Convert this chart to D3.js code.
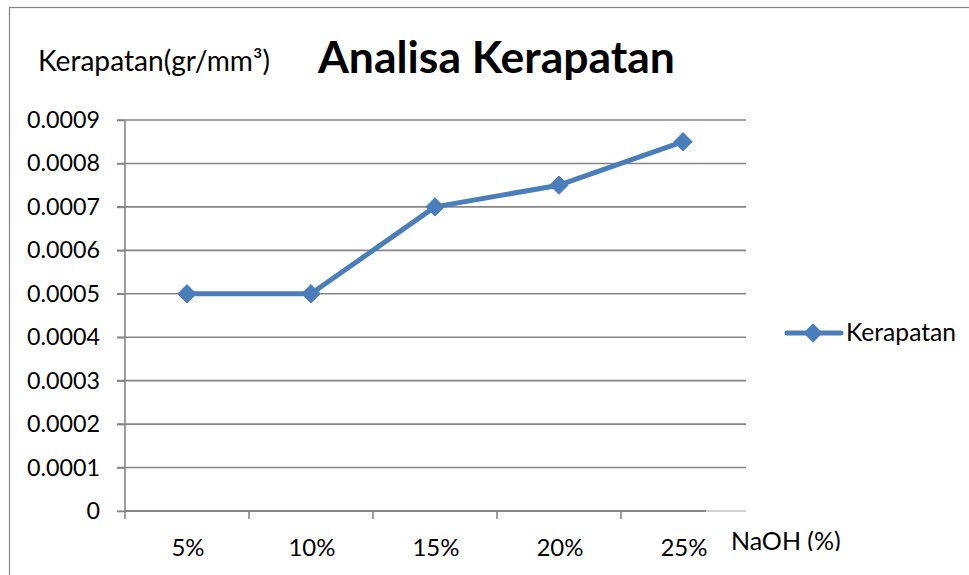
<!DOCTYPE html>
<html><head><meta charset="utf-8">
<script src="https://cdn.jsdelivr.net/npm/d3@7"></script>
<style>
html,body{margin:0;padding:0;background:#fff;}
svg{display:block;font-family:Lato,"Open Sans",sans-serif;}
</style></head>
<body>
<svg id="chart" width="969" height="575"></svg>
<script>
// ---- data ----
const categories = ["5%", "10%", "15%", "20%", "25%"];
const kerapatan = [0.0005, 0.0005, 0.0007, 0.00075, 0.00085];
const yTicks = [0, 0.0001, 0.0002, 0.0003, 0.0004, 0.0005, 0.0006, 0.0007, 0.0008, 0.0009];
const seriesName = "Kerapatan";
const titleText = "Analisa Kerapatan";
const yTitleText = "Kerapatan(gr/mm³)";
const xTitleText = "NaOH (%)";

const svg = d3.select("#chart");
const blue = "#4A7EBB", grid = "#868686";

function fitSize(sel, w) {
  const n = sel.node();
  const fs = parseFloat(sel.attr("font-size"));
  const bw = n.getBBox().width;
  return fs * w / bw;
}
function fit(sel, w) { sel.attr("font-size", fitSize(sel, w).toFixed(2)); }

// outer border
svg.append("rect").attr("x", 9.5).attr("y", 7.5).attr("width", 975).attr("height", 590)
  .attr("fill", "none").attr("stroke", grid).attr("stroke-width", 1.2);

const x = d3.scaleBand().domain(categories).range([125, 745]).padding(0);
const y = d3.scaleLinear().domain([0, 0.0009]).range([511, 120]);

// gridlines
svg.append("g").selectAll("line").data(yTicks).join("line")
  .attr("x1", 117).attr("x2", 746)
  .attr("y1", d => y(d)).attr("y2", d => y(d))
  .attr("stroke", d => d === 0 ? "#c0c0c0" : grid).attr("stroke-width", 1.6);

// y axis
const yAxis = svg.append("g").attr("transform", "translate(125,0)")
  .call(d3.axisLeft(y).tickValues(yTicks).tickSize(8).tickPadding(17)
    .tickFormat(d => d === 0 ? "0" : d.toFixed(4)));
yAxis.select(".domain").attr("stroke", grid).attr("stroke-width", 1.6).attr("d", `M0,${y(0.0009)}V${y(0)}`);
yAxis.selectAll(".tick line").attr("stroke", grid).attr("stroke-width", 1.6);
const yLabels = yAxis.selectAll(".tick text").attr("fill", "#000").attr("font-size", 23).attr("font-family", "Lato");
const sampleY = yLabels.filter(d => d === 0.0009);
const yfs = fitSize(sampleY, 73).toFixed(2);
yLabels.attr("font-size", yfs);

// x axis line (dark part) + ticks
svg.append("line").attr("x1", 125).attr("x2", 706).attr("y1", y(0)).attr("y2", y(0))
  .attr("stroke", grid).attr("stroke-width", 1.8);
svg.append("g").selectAll("line").data(categories).join("line")
  .attr("x1", d => x(d)).attr("x2", d => x(d))
  .attr("y1", y(0)).attr("y2", y(0) + 8)
  .attr("stroke", grid).attr("stroke-width", 1.6);
svg.append("g").selectAll("text").data(categories).join("text")
  .attr("x", d => x(d) + x.bandwidth() / 2 + 1).attr("y", 556)
  .attr("text-anchor", "middle").attr("font-size", 24).attr("fill", "#000")
  .text(d => d);

// x title (clipped at bottom like the reference)
svg.append("clipPath").attr("id", "xclip").append("rect")
  .attr("x", 706).attr("y", 514).attr("width", 200).attr("height", 37);
svg.append("text").attr("x", 731).attr("y", 550).attr("font-size", 25)
  .attr("clip-path", "url(#xclip)").attr("fill", "#000").text(xTitleText);

// line + markers
const line = d3.line().x((d, i) => x(categories[i]) + x.bandwidth() / 2).y(d => y(d));
svg.append("path").datum(kerapatan).attr("d", line)
  .attr("fill", "none").attr("stroke", blue).attr("stroke-width", 5).attr("stroke-linejoin", "round");
const diamond = d3.symbol().type(d3.symbolDiamond2).size(215);
svg.append("g").selectAll("path").data(kerapatan).join("path")
  .attr("transform", (d, i) => `translate(${x(categories[i]) + x.bandwidth() / 2},${y(d)})`)
  .attr("d", diamond).attr("fill", blue).attr("stroke", blue).attr("stroke-width", 1).attr("stroke-linejoin", "round");

// titles
const t = svg.append("text").attr("x", 318).attr("y", 73).attr("font-size", 42)
  .attr("font-weight", "bold").attr("fill", "#000").text(titleText);
fit(t, 358);
const yt = svg.append("text").attr("x", 38).attr("y", 71).attr("font-size", 23)
  .attr("fill", "#000").text(yTitleText);
fit(yt, 232);

// legend
svg.append("line").attr("x1", 787).attr("x2", 841).attr("y1", 333).attr("y2", 333)
  .attr("stroke", blue).attr("stroke-width", 5).attr("stroke-linecap", "round");
svg.append("path").attr("transform", "translate(813,333)").attr("d", diamond).attr("fill", blue)
  .attr("stroke", blue).attr("stroke-width", 1).attr("stroke-linejoin", "round");
const lt = svg.append("text").attr("x", 846).attr("y", 341).attr("font-size", 23)
  .attr("fill", "#000").text(seriesName);
fit(lt, 110);
</script>
</body></html>
